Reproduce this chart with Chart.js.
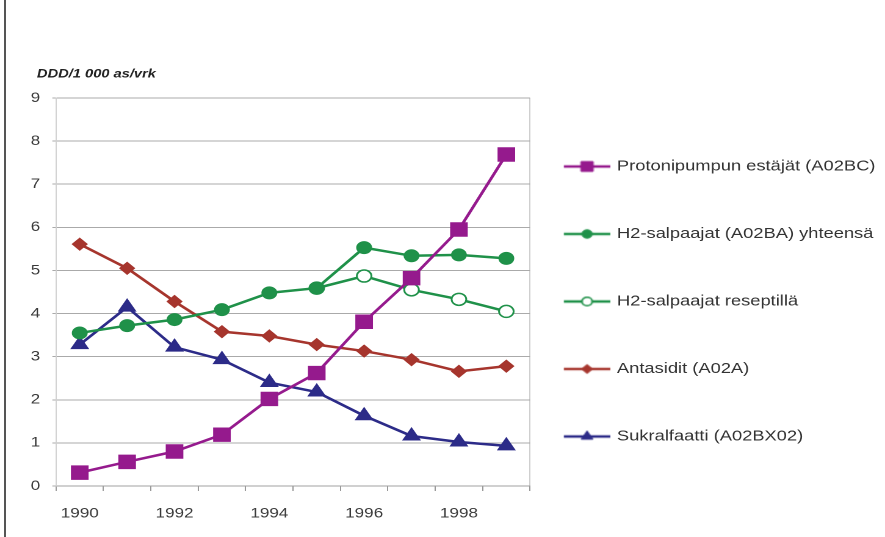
<!DOCTYPE html>
<html><head><meta charset="utf-8">
<script src="https://cdn.jsdelivr.net/npm/chart.js@4.4.1/dist/chart.umd.min.js"></script>
<style>
html,body{margin:0;padding:0;background:#fff;width:885px;height:537px;overflow:hidden;}
#frame{position:absolute;left:4px;top:0;width:2px;height:537px;background:#555;}
#wrap{position:absolute;left:0;top:0;width:725px;height:537px;transform:scaleX(1.2207);transform-origin:0 0;}
</style></head><body>
<div id="wrap"><canvas id="c" width="725" height="537"></canvas></div>
<div id="frame"></div>
<script>
// ---- data ----
const years = ['1990','1991','1992','1993','1994','1995','1996','1997','1998','1999'];
const xTickLabels = ['1990','','1992','','1994','','1996','','1998',''];
const yMin = 0, yMax = 9, yStep = 1;
const seriesNames = [
  'Protonipumpun estäjät (A02BC)',
  'H2-salpaajat (A02BA) yhteensä',
  'H2-salpaajat reseptillä',
  'Antasidit (A02A)',
  'Sukralfaatti (A02BX02)'
];
const proton       = [0.31, 0.56, 0.80, 1.19, 2.02, 2.62, 3.81, 4.82, 5.95, 7.69];
const h2Total      = [3.55, 3.72, 3.86, 4.09, 4.48, 4.59, 5.53, 5.34, 5.36, 5.28];
const h2Resept     = [null, null, null, null, null, 4.59, 4.87, 4.55, 4.33, 4.05];
const antasidit    = [5.61, 5.05, 4.28, 3.58, 3.48, 3.28, 3.13, 2.93, 2.66, 2.78];
const sukralfaatti = [3.28, 4.15, 3.22, 2.93, 2.40, 2.18, 1.63, 1.16, 1.02, 0.93];

// ---- styling ----
const FONT = "'Liberation Sans', Arial, sans-serif";
const PURPLE = '#951a8d', GREEN = '#1f9149', RED = '#a6352d', NAVY = '#2c2b88';
const LEG_FS = 15, LEG_PAD = 52.5, BOXW = 34;
const LEGEND_LEFT = 505.4 - LEG_FS / 2 - BOXW - LEG_PAD;
const CHART_RIGHT = 434.2;
const PAD_LEFT = 10, PLOT_LEFT = 45.9, TITLE_LEFT = 30.3;

function legendIcon(color, style, radius, fill, bw) {
  const c = document.createElement('canvas');
  c.width = 40; c.height = 16;
  const g = c.getContext('2d');
  g.strokeStyle = color; g.lineWidth = 2.5;
  g.beginPath(); g.moveTo(1, 8); g.lineTo(39, 8); g.stroke();
  g.fillStyle = fill; g.strokeStyle = color; g.lineWidth = bw;
  Chart.helpers.drawPoint(g, {pointStyle: style, radius: radius, rotation: 0, borderWidth: bw}, 20, 8);
  return c;
}

const styles = [
  {color: PURPLE, style: 'rect', r: 9.5, fill: PURPLE, bw: 1, lr: 7},
  {color: GREEN, style: 'circle', r: 6, fill: GREEN, bw: 1, lr: 4.2},
  {color: GREEN, style: 'circle', r: 6, fill: '#ffffff', bw: 1.5, lr: 4.2},
  {color: RED, style: 'rectRot', r: 6, fill: RED, bw: 1, lr: 4.5},
  {color: NAVY, style: 'triangle', r: 8, fill: NAVY, bw: 1, lr: 5.5}
];
const values = [proton, h2Total, h2Resept, antasidit, sukralfaatti];

const datasets = values.map((v, i) => ({
  label: seriesNames[i],
  data: v,
  borderColor: styles[i].color,
  backgroundColor: styles[i].fill,
  borderWidth: 2.5,
  tension: 0,
  pointStyle: styles[i].style,
  pointRadius: styles[i].r,
  pointBorderWidth: styles[i].bw,
  pointBackgroundColor: styles[i].fill,
  pointBorderColor: styles[i].color,
  clip: false
}));

const layoutHack = {
  id: 'layoutHack',
  beforeInit(chart) {
    const orig = chart.legend.fit;
    chart.legend.fit = function () {
      orig.call(this);
      this.width = 725 - CHART_RIGHT;
    };
  },
  afterLayout(chart) {
    const lg = chart.legend;
    lg.left = LEGEND_LEFT; lg.right = 760; lg.width = 760 - LEGEND_LEFT;
    lg.top = 23; lg.bottom = 580; lg.height = 557;
    if (chart.titleBlock) { chart.titleBlock.left = TITLE_LEFT; }
  }
};

new Chart(document.getElementById('c'), {
  type: 'line',
  data: {labels: years, datasets: datasets},
  plugins: [layoutHack],
  options: {
    responsive: false,
    animation: false,
    devicePixelRatio: 2,
    layout: {padding: {left: PAD_LEFT, right: 0, top: 0, bottom: 0}},
    plugins: {
      title: {
        display: true, text: 'DDD/1 000 as/vrk', align: 'start', color: '#222',
        font: {family: FONT, size: 12, style: 'italic', weight: 'bold'},
        padding: {top: 66.8, bottom: 16.8}
      },
      legend: {
        position: 'right',
        labels: {
          usePointStyle: true,
          pointStyleWidth: BOXW,
          padding: LEG_PAD,
          color: '#333',
          font: {family: FONT, size: LEG_FS},
          generateLabels: (chart) => chart.data.datasets.map((ds, i) => ({
            text: ds.label,
            pointStyle: legendIcon(styles[i].color, styles[i].style, styles[i].lr, styles[i].fill, styles[i].bw),
            fillStyle: styles[i].fill,
            strokeStyle: styles[i].color,
            lineWidth: 0,
            hidden: false,
            datasetIndex: i,
            fontColor: '#333'
          }))
        }
      },
      tooltip: {enabled: false}
    },
    scales: {
      x: {
        offset: true,
        grid: {
          offset: true,
          color: (c) => (c.index === undefined ? '#cfcfcf' : 'rgba(0,0,0,0)'),
          tickColor: '#999',
          tickLength: 5,
          lineWidth: 1
        },
        border: {color: '#a0a0a0'},
        ticks: {
          autoSkip: false, maxRotation: 0,
          callback: (v, i) => xTickLabels[i],
          font: {family: FONT, size: 14}, color: '#3a3a3a', padding: 14
        },
        afterFit: (s) => { s.height = 51; }
      },
      y: {
        min: yMin, max: yMax,
        ticks: {stepSize: yStep, font: {family: FONT, size: 14}, color: '#3a3a3a', padding: 10},
        grid: {color: '#aaaaaa', tickLength: 3, lineWidth: 1},
        border: {color: '#d0d0d0'},
        afterFit: (s) => { s.width = PLOT_LEFT - PAD_LEFT; }
      }
    }
  }
});
</script>
</body></html>
